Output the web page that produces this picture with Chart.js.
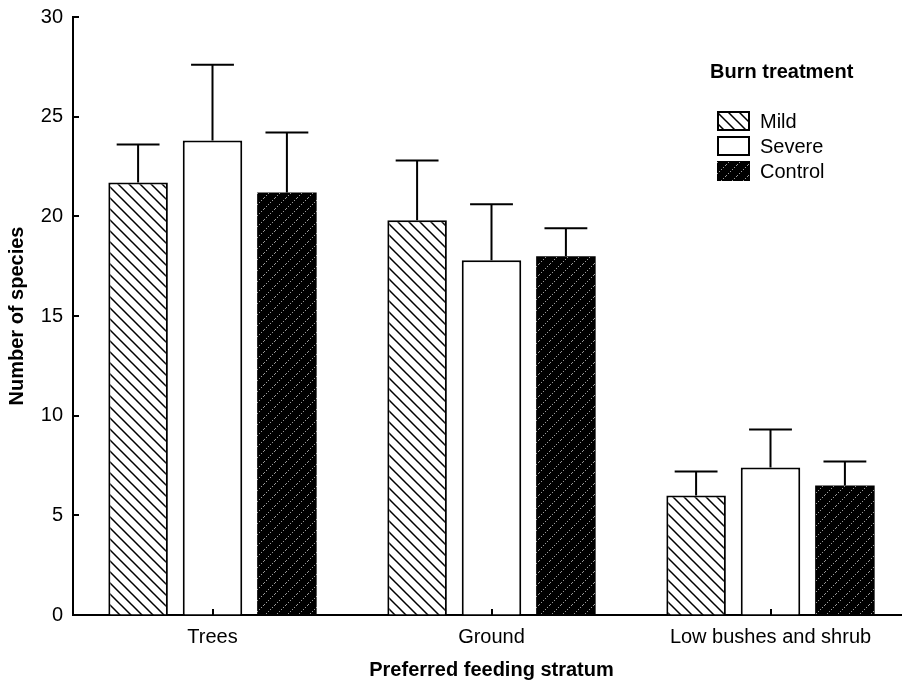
<!DOCTYPE html>
<html><head><meta charset="utf-8">
<script src="https://cdn.jsdelivr.net/npm/chart.js@4.4.1/dist/chart.umd.min.js"></script>
<style>
html,body{margin:0;padding:0;background:#fff;overflow:hidden}
#wrap{width:902px;height:685px;overflow:hidden;position:relative;background:#fff}
canvas{display:block}
</style></head>
<body><div id="wrap"><canvas id="c" width="912" height="685" style="width:912px;height:685px"></canvas></div>
<script>
const categories = ['Trees', 'Ground', 'Low bushes and shrub'];
const seriesNames = ['Mild', 'Severe', 'Control'];
const mildMean = [21.7, 19.8, 6.0];
const mildErr = [1.9, 3.0, 1.2];
const severeMean = [23.8, 17.8, 7.4];
const severeErr = [3.8, 2.8, 1.9];
const controlMean = [21.2, 18.0, 6.5];
const controlErr = [3.0, 1.4, 1.2];
const yTicks = [0, 5, 10, 15, 20, 25, 30];
const legendTitle = 'Burn treatment';
const xTitle = 'Preferred feeding stratum';
const yTitle = 'Number of species';

const FONT = '"Liberation Sans", Arial, sans-serif';

function hatchPattern() {
  const s = 11;
  const c = document.createElement('canvas'); c.width = s; c.height = s;
  const g = c.getContext('2d');
  g.fillStyle = '#fff'; g.fillRect(0, 0, s, s);
  g.strokeStyle = '#000'; g.lineWidth = 1.5;
  g.beginPath();
  g.moveTo(0, 0); g.lineTo(s, s);
  g.moveTo(-2, s - 2); g.lineTo(2, s + 2);
  g.moveTo(s - 2, -2); g.lineTo(s + 2, 2);
  g.stroke();
  return g.createPattern(c, 'repeat');
}
function darkPattern() {
  const s = 11;
  const c = document.createElement('canvas'); c.width = s; c.height = s;
  const g = c.getContext('2d');
  g.fillStyle = '#000'; g.fillRect(0, 0, s, s);
  g.fillStyle = '#9a9a9a';
  for (let i = 0; i < s; i += 2) { g.fillRect(i, s - 1 - i, 1, 1); }
  return g.createPattern(c, 'repeat');
}
const fills = [hatchPattern(), '#ffffff', darkPattern()];
const errs = [mildErr, severeErr, controlErr];

const extras = {
  id: 'extras',
  afterDatasetsDraw(chart) {
    const ctx = chart.ctx, ys = chart.scales.y, xs = chart.scales.x;
    ctx.save();
    ctx.strokeStyle = '#000'; ctx.lineWidth = 2;
    chart.data.datasets.forEach((ds, di) => {
      const meta = chart.getDatasetMeta(di);
      meta.data.forEach((bar, i) => {
        const top = ys.getPixelForValue(ds.data[i]);
        const et = ys.getPixelForValue(ds.data[i] + errs[di][i]);
        const hw = bar.width * 0.36;
        ctx.beginPath();
        ctx.moveTo(bar.x, top); ctx.lineTo(bar.x, et);
        ctx.moveTo(bar.x - hw, et); ctx.lineTo(bar.x + hw, et);
        ctx.stroke();
      });
    });
    // inward ticks
    const left = chart.chartArea.left, bottom = chart.chartArea.bottom;
    ctx.beginPath();
    yTicks.forEach(v => { const p = Math.round(ys.getPixelForValue(v)); ctx.moveTo(left, p); ctx.lineTo(left + 6, p); });
    categories.forEach((c, i) => { const p = Math.round(xs.getPixelForValue(i)); ctx.moveTo(p, bottom); ctx.lineTo(p, bottom - 6); });
    ctx.stroke();
    ctx.restore();
  },
  afterDraw(chart) {
    const ctx = chart.ctx;
    ctx.save();
    ctx.fillStyle = '#000';
    ctx.textBaseline = 'middle'; ctx.textAlign = 'left';
    ctx.font = 'bold 20px ' + FONT;
    ctx.fillText(legendTitle, 710, 72);
    ctx.font = '20px ' + FONT;
    chart.data.datasets.forEach((ds, i) => {
      const y0 = 111 + i * 25;
      ctx.fillStyle = ds.backgroundColor;
      ctx.fillRect(717, y0, 33, 20);
      if (i < 2) { ctx.strokeStyle = '#000'; ctx.lineWidth = 2; ctx.strokeRect(718, y0 + 1, 31, 18); }
      ctx.fillStyle = '#000';
      ctx.fillText(ds.label, 760, y0 + 11);
    });
    ctx.restore();
  }
};

new Chart(document.getElementById('c'), {
  type: 'bar',
  data: {
    labels: categories,
    datasets: [
      { label: seriesNames[0], data: mildMean, backgroundColor: fills[0], borderColor: '#000', borderWidth: 2 },
      { label: seriesNames[1], data: severeMean, backgroundColor: fills[1], borderColor: '#000', borderWidth: 2 },
      { label: seriesNames[2], data: controlMean, backgroundColor: fills[2], borderColor: '#000', borderWidth: 0 }
    ]
  },
  options: {
    responsive: false,
    animation: false,
    devicePixelRatio: 1,
    layout: { padding: { top: 17, right: 2, left: 0, bottom: 0 } },
    plugins: { legend: { display: false }, tooltip: { enabled: false } },
    datasets: { bar: { categoryPercentage: 0.8, barPercentage: 0.8 } },
    scales: {
      x: {
        grid: { display: true, drawOnChartArea: false, drawTicks: false },
        border: { display: true, color: '#000', width: 2 },
        ticks: { color: '#000', font: { family: FONT, size: 20 }, padding: 10 },
        title: { display: true, text: xTitle, color: '#000', font: { family: FONT, size: 20, weight: 'bold' }, padding: { top: 0, bottom: 3 } },
        afterFit(s) { s.height = 70; s.paddingLeft = 0; s.paddingRight = 0; }
      },
      y: {
        min: 0, max: 30,
        grid: { display: true, drawOnChartArea: false, drawTicks: false },
        border: { display: true, color: '#000', width: 2 },
        ticks: { color: '#000', stepSize: 5, font: { family: FONT, size: 20 }, padding: 10 },
        title: { display: true, text: yTitle, color: '#000', font: { family: FONT, size: 20, weight: 'bold' }, padding: { top: 5, bottom: 0 } },
        afterFit(s) { s.width = 73; s.paddingTop = 0; s.paddingBottom = 0; }
      }
    }
  },
  plugins: [extras]
});
</script>
</body></html>
